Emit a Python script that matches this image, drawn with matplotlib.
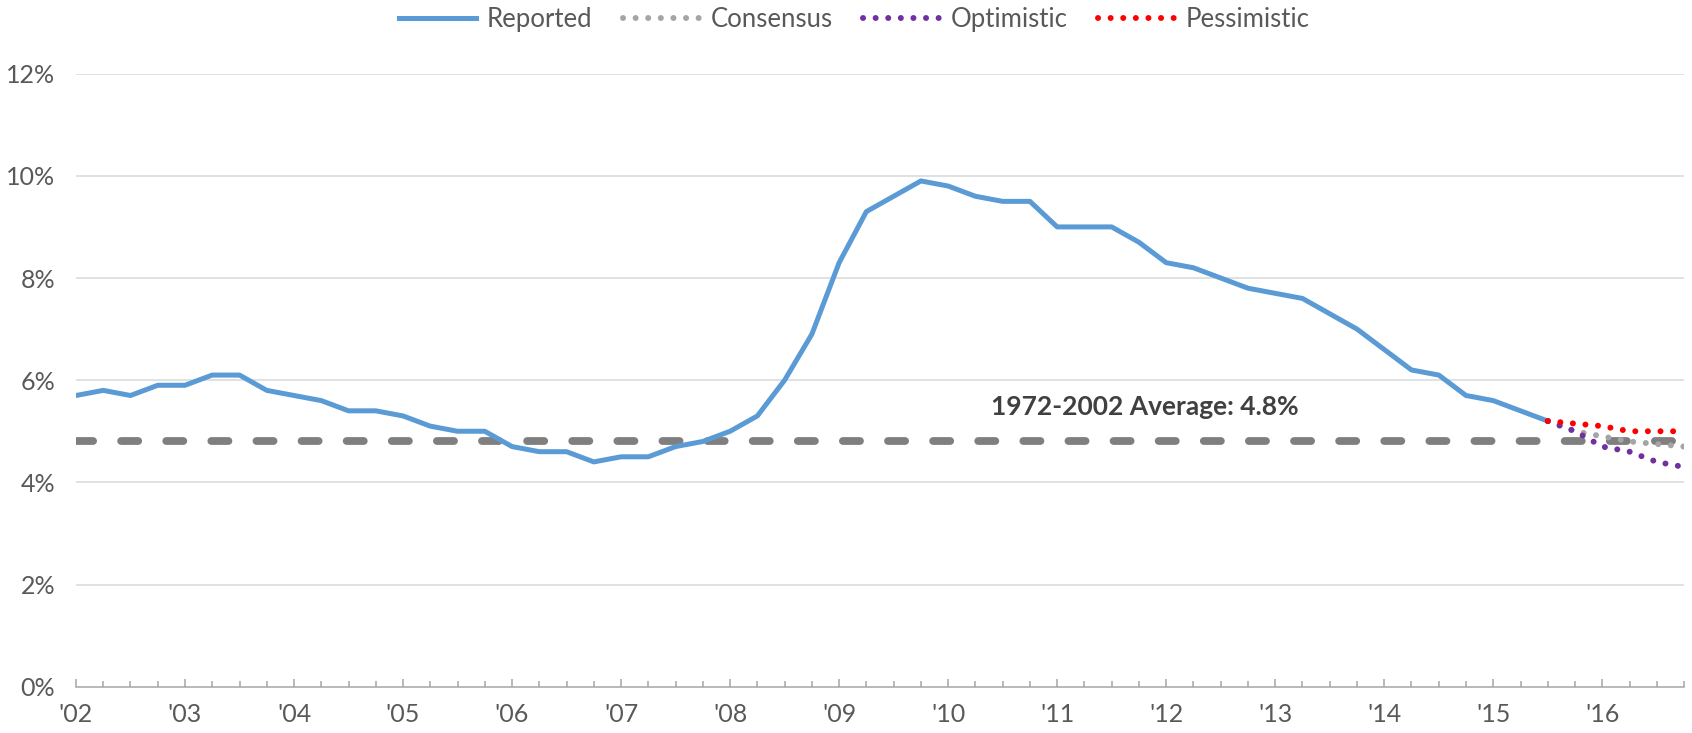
import matplotlib
matplotlib.use("Agg")
import matplotlib.pyplot as plt
from matplotlib.ticker import FixedLocator, MultipleLocator, FuncFormatter

plt.rcParams['font.family'] = ['Lato', 'DejaVu Sans']

# ---- data (quarterly, index 0 = Q1 2002) ----
reported = [5.7, 5.8, 5.7, 5.9, 5.9, 6.1, 6.1, 5.8,
            5.7, 5.6, 5.4, 5.4, 5.3, 5.1, 5.0, 5.0,
            4.7, 4.6, 4.6, 4.4, 4.5, 4.5, 4.7, 4.8,
            5.0, 5.3, 6.0, 6.9, 8.3, 9.3, 9.6, 9.9,
            9.8, 9.6, 9.5, 9.5, 9.0, 9.0, 9.0, 8.7,
            8.3, 8.2, 8.0, 7.8, 7.7, 7.6, 7.3, 7.0,
            6.6, 6.2, 6.1, 5.7, 5.6, 5.4, 5.2]
forecast_start = 54
consensus = [5.2, 5.0, 4.9, 4.8, 4.75, 4.7]
optimistic = [5.2, 5.0, 4.7, 4.6, 4.4, 4.3]
pessimistic = [5.2, 5.15, 5.1, 5.0, 5.0, 5.0]
average = 4.8
average_label = "1972-2002 Average: 4.8%"
year_labels = ["'02", "'03", "'04", "'05", "'06", "'07", "'08", "'09",
               "'10", "'11", "'12", "'13", "'14", "'15", "'16"]
y_ticks = [0, 2, 4, 6, 8, 10, 12]

x_rep = list(range(len(reported)))
x_fc = list(range(forecast_start, forecast_start + len(consensus)))

fig = plt.figure(figsize=(16.92, 7.33), dpi=100)
ax = fig.add_axes([0.0449, 0.0632, 0.9504, 0.8363])

tick_color = '#595959'

# gridlines
for yv in y_ticks[1:]:
    ax.axhline(yv, color='#d9d9d9', lw=1.1, zorder=0)

# average dashed line
ax.axhline(average, color='#7f7f7f', lw=5.6, linestyle=(0, (2.2, 3.6)),
           dash_capstyle='round', zorder=1)

dot_style = dict(lw=4.3, linestyle=(0, (0.01, 2.1)), dash_capstyle='round')
l_rep, = ax.plot(x_rep, reported, color='#5b9bd5', lw=3.6, zorder=3,
                 solid_joinstyle='round', label='Reported')
l_con, = ax.plot(x_fc, consensus, color='#a5a5a5', zorder=2, label='Consensus', **dot_style)
l_opt, = ax.plot(x_fc, optimistic, color='#7030a0', zorder=3, label='Optimistic', **dot_style)
l_pes, = ax.plot(x_fc, pessimistic, color='#ff0000', zorder=4, label='Pessimistic', **dot_style)

ax.text(39.2, 5.47, average_label, ha='center', va='center', fontsize=19,
        fontweight='bold', color='#404040')

ax.set_xlim(0, 59)
ax.set_ylim(0, 12)

ax.set_yticks(y_ticks)
ax.yaxis.set_major_formatter(FuncFormatter(lambda v, p: f"{int(v)}%"))
ax.tick_params(axis='y', length=0, pad=15, labelsize=18, labelcolor=tick_color)

ax.xaxis.set_major_locator(FixedLocator([4 * i for i in range(len(year_labels))]))
ax.set_xticklabels(year_labels)
ax.xaxis.set_minor_locator(MultipleLocator(1))
ax.tick_params(axis='x', which='major', direction='in', length=6, width=1.1,
               color='#a6a6a6', pad=12, labelsize=18, labelcolor=tick_color)
ax.tick_params(axis='x', which='minor', direction='in', length=4.3, width=1.1,
               color='#a6a6a6')

for s in ['top', 'right', 'left']:
    ax.spines[s].set_visible(False)
ax.spines['bottom'].set_color('#a6a6a6')
ax.spines['bottom'].set_linewidth(1.1)
ax.spines['bottom'].set_zorder(5)

leg = fig.legend(handles=[l_rep, l_con, l_opt, l_pes], loc='center',
                 bbox_to_anchor=(0.505, 0.9735), ncol=4, frameon=False,
                 fontsize=18.5, handlelength=3.0, handletextpad=0.4,
                 columnspacing=1.2)
for t in leg.get_texts():
    t.set_color(tick_color)

fig.savefig('out.png', dpi=100)
